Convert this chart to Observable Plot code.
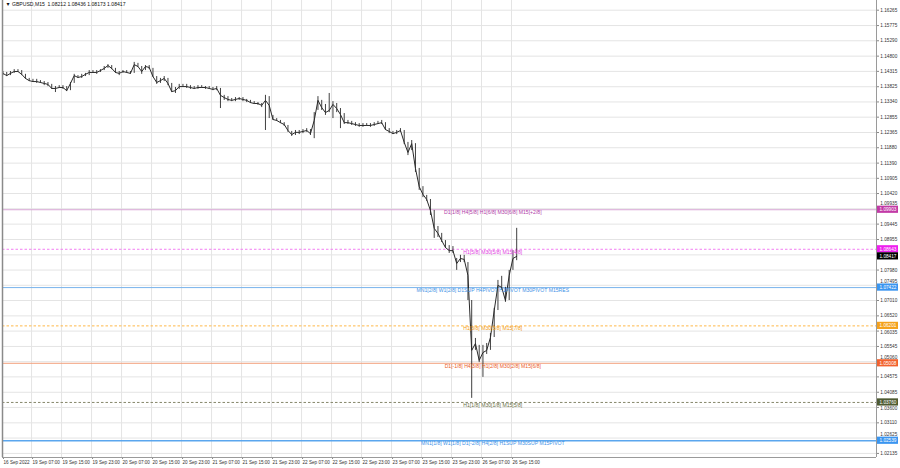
<!DOCTYPE html>
<html><head><meta charset="utf-8">
<script src="https://cdn.jsdelivr.net/npm/d3@7"></script>
<script src="https://cdn.jsdelivr.net/npm/@observablehq/plot@0.6"></script>
<style>html,body{margin:0;padding:0;background:#fff;}</style>
</head><body><div id="chart"></div>
<script>
// Hourly samples (close / high / low)
const hourClose = [1.1425,1.1418,1.1425,1.1431,1.1431,1.1422,1.1409,1.1402,1.1399,1.1399,1.1396,1.1393,1.1390,1.1377,1.1377,1.1380,1.1380,1.1370,1.1393,1.1418,
1.1412,1.1415,1.1422,1.1428,1.1428,1.1428,1.1434,1.1441,1.1450,1.1441,1.1428,1.1425,1.1431,1.1428,1.1425,1.1453,1.1447,1.1431,1.1447,1.1444,
1.1415,1.1396,1.1402,1.1409,1.1393,1.1367,1.1370,1.1383,1.1383,1.1383,1.1380,1.1377,1.1380,1.1380,1.1380,1.1377,1.1374,1.1377,1.1355,1.1348,
1.1342,1.1339,1.1342,1.1345,1.1342,1.1339,1.1332,1.1329,1.1329,1.1323,1.1339,1.1323,1.1278,1.1275,1.1268,1.1262,1.1243,1.1230,1.1237,1.1237,
1.1240,1.1243,1.1233,1.1275,1.1339,1.1316,1.1300,1.1307,1.1326,1.1313,1.1294,1.1268,1.1268,1.1265,1.1262,1.1259,1.1259,1.1259,1.1259,1.1262,
1.1265,1.1268,1.1246,1.1240,1.1233,1.1237,1.1243,1.1205,1.1173,1.1201,1.1122,1.1064,1.1039,1.1023,1.0988,1.0931,1.0915,1.0892,1.0870,1.0860,
1.0860,1.0819,1.0835,1.0832,1.0781,1.0542,1.0564,1.0510,1.0535,1.0542,1.0583,1.0669,1.0749,1.0743,1.0701,1.0781,1.0835,1.08417];
const hourHigh = [1.1431,1.1428,1.1431,1.1437,1.1437,1.1434,1.1422,1.1409,1.1406,1.1406,1.1402,1.1399,1.1396,1.1390,1.1383,1.1386,1.1386,1.1383,1.1396,1.1422,
1.1418,1.1422,1.1425,1.1434,1.1434,1.1434,1.1437,1.1447,1.1453,1.1450,1.1441,1.1431,1.1434,1.1434,1.1431,1.1460,1.1457,1.1447,1.1450,1.1450,
1.1441,1.1415,1.1409,1.1415,1.1409,1.1393,1.1380,1.1390,1.1390,1.1390,1.1386,1.1383,1.1386,1.1386,1.1383,1.1383,1.1380,1.1383,1.1377,1.1355,
1.1351,1.1345,1.1348,1.1348,1.1348,1.1342,1.1339,1.1335,1.1332,1.1329,1.1355,1.1351,1.1291,1.1281,1.1275,1.1268,1.1259,1.1240,1.1243,1.1243,
1.1246,1.1249,1.1246,1.1300,1.1351,1.1339,1.1326,1.1361,1.1335,1.1329,1.1313,1.1297,1.1275,1.1272,1.1268,1.1265,1.1265,1.1265,1.1265,1.1268,
1.1272,1.1275,1.1268,1.1249,1.1240,1.1243,1.1249,1.1243,1.1205,1.1211,1.1201,1.1122,1.1064,1.1036,1.1023,1.0988,1.0937,1.0915,1.0892,1.0876,
1.0873,1.0835,1.0845,1.0845,1.0822,1.0701,1.0580,1.0558,1.0558,1.0564,1.0596,1.0676,1.0765,1.0778,1.0743,1.0797,1.0860,1.0931];
const hourLow = [1.1418,1.1415,1.1418,1.1425,1.1428,1.1418,1.1406,1.1399,1.1396,1.1393,1.1393,1.1386,1.1383,1.1374,1.1364,1.1377,1.1374,1.1367,1.1370,1.1393,
1.1409,1.1409,1.1415,1.1418,1.1425,1.1422,1.1428,1.1434,1.1441,1.1437,1.1425,1.1418,1.1425,1.1425,1.1422,1.1425,1.1444,1.1422,1.1434,1.1437,
1.1412,1.1390,1.1393,1.1399,1.1386,1.1364,1.1361,1.1374,1.1380,1.1377,1.1374,1.1374,1.1374,1.1377,1.1374,1.1374,1.1370,1.1370,1.1313,1.1339,
1.1335,1.1335,1.1335,1.1339,1.1335,1.1332,1.1329,1.1326,1.1323,1.1316,1.1243,1.1281,1.1275,1.1272,1.1265,1.1256,1.1237,1.1224,1.1227,1.1230,
1.1233,1.1237,1.1227,1.1217,1.1307,1.1307,1.1291,1.1300,1.1281,1.1300,1.1249,1.1262,1.1262,1.1259,1.1256,1.1253,1.1253,1.1256,1.1253,1.1256,
1.1262,1.1262,1.1243,1.1233,1.1230,1.1230,1.1237,1.1198,1.1163,1.1179,1.1109,1.1052,1.1029,1.1017,1.0972,1.0899,1.0902,1.0886,1.0867,1.0851,
1.0851,1.0797,1.0822,1.0822,1.0701,1.0389,1.0542,1.0503,1.0456,1.0529,1.0542,1.0583,1.0669,1.0733,1.0695,1.0701,1.0797,1.0828];

// Price axis ticks (right side)
const yTicks = [1.16265,1.15775,1.15290,1.14800,1.14315,1.13825,1.13340,1.12855,1.12365,1.11880,1.11390,1.10905,1.10420,1.09935,1.09445,
1.08955,1.08465,1.07980,1.07495,1.07010,1.06520,1.06035,1.05545,1.05060,1.04575,1.04085,1.03600,1.03110,1.02625,1.02135];

// Time axis (M15 bar index of each label) and labels
const xTickBars = [0,31,63,95,127,159,191,223,255,287,319,351,383,415,447,479,511,543];
const xTickLabels = ["16 Sep 2022","19 Sep 07:00","19 Sep 15:00","19 Sep 23:00","20 Sep 07:00","20 Sep 15:00","20 Sep 23:00",
"21 Sep 07:00","21 Sep 15:00","21 Sep 23:00","22 Sep 07:00","22 Sep 15:00","22 Sep 23:00","23 Sep 07:00","23 Sep 15:00",
"23 Sep 23:00","26 Sep 07:00","26 Sep 15:00"];

// Murrey-math style levels
const levelPrices = [1.09903,1.08643,1.07422,1.06201,1.05008,1.03760,1.02539];
const levelTexts = ["D1[1/8] H4[5/8] H1[6/8] M30[6/8] M15[+2/8]","H1[5/8] M30[5/8] M15[4/8]",
"MN1[2/8] W1[2/8] D1SUP H4PIVOT H1PIVOT M30PIVOT M15RES","H1[3/8] M30[3/8] M15[7/8]",
"D1[-1/8] H4[3/8] H1[2/8] M30[2/8] M15[6/8]","H1[1/8] M30[1/8] M15[5/8]",
"MN1[1/8] W1[1/8] D1[-2/8] H4[2/8] H1SUP M30SUP M15PIVOT"];
const levelLineColors = ["#d9a6d6","#f27ef2","#79b3ec","#ffb848","#f3a07c","#85866a","#5aa6ee"];
const levelTextColors = ["#b03ca8","#e23ce2","#3f92e6","#f29a12","#ea5a26","#6b7048","#3f92e6"];
const levelDashed = [false,true,false,true,false,true,false];
const levelWidths = [1,1,1,1,1,1,1.6];
const boxColors = ["#c23aa6","#ee1fee","#3a95f0","#f4a21c","#f2622e","#4e5a32","#3a95f0"];

const lastPrice = 1.08417;
const titleText = "▼ GBPUSD,M15  1.08212 1.08436 1.08173 1.08417";

const hours = hourClose.map((c, k) => ({i: 4 * k + 0.5, close: c, high: hourHigh[k], low: hourLow[k]}));
const levels = levelPrices.map((p, j) => ({price: p, text: levelTexts[j], line: levelLineColors[j], tc: levelTextColors[j],
  dashed: levelDashed[j], w: levelWidths[j], box: boxColors[j]}));
const boxes = levels.map(d => ({price: d.price, box: d.box})).concat([{price: lastPrice, box: "#000000"}]);
const xMax = 932.3;
const yDomain = [1.02005, 1.16574];
const plotH = 457;
const fs = 4.7;

// Tick labels: nudge those that a price box would cover (they peek out), hide fully covered ones
const pxPer = plotH / (yDomain[1] - yDomain[0]);
const boxHalf = 3.6, textHalf = 2.5;
const tickGroups = new Map();
for (const t of yTicks) {
  const ty = (yDomain[1] - t) * pxPer;
  let dy = 0, hidden = false;
  for (const b of boxes) {
    const by = (yDomain[1] - b.price) * pxPer;
    if (Math.abs(ty - by) < boxHalf + textHalf) {
      if (ty < by) dy = (by - boxHalf - textHalf) - ty; else dy = (by + boxHalf + textHalf) - ty;
    }
  }
  const ny = ty + dy;
  for (const b of boxes) {
    const by = (yDomain[1] - b.price) * pxPer;
    if (Math.abs(ny - by) < boxHalf + textHalf - 0.01) hidden = true;
  }
  if (hidden) continue;
  const key = Math.round(dy * 10) / 10;
  if (!tickGroups.has(key)) tickGroups.set(key, []);
  tickGroups.get(key).push(t);
}
const tickTextMarks = [...tickGroups].map(([dy, arr]) =>
  Plot.text(arr, {x: () => xMax, y: d => d, text: d => d.toFixed(5), dx: 3.8, dy, textAnchor: "start", fill: "#333", fontSize: fs}));

const solid = levels.filter(d => !d.dashed), dashed = levels.filter(d => d.dashed);

const chart = Plot.plot({
  width: 900, height: 468,
  marginLeft: 2, marginRight: 24, marginTop: 0, marginBottom: 11,
  style: {fontFamily: "Liberation Sans, Arial, sans-serif", fontSize: fs + "px", background: "#fff", color: "#222"},
  x: {domain: [0, xMax], axis: null, label: null},
  y: {domain: yDomain, axis: null, label: null},
  marks: [
    Plot.gridY(yTicks, {stroke: "#e4e4e4", strokeOpacity: 1}),
    Plot.gridX(xTickBars, {stroke: "#e4e4e4", strokeOpacity: 1}),
    Plot.ruleY(solid, {y: "price", stroke: "line", strokeWidth: "w"}),
    Plot.ruleY(dashed, {y: "price", stroke: "line", strokeDasharray: "2.5,2"}),
    Plot.ruleX(hours, {x: "i", y1: "low", y2: "high", stroke: "#2a2a2a", strokeWidth: 0.9}),
    Plot.line(hours, {x: "i", y: "close", stroke: "#2a2a2a", strokeWidth: 1}),
    Plot.text(levels, {x: 523, y: "price", text: "text", fill: "tc", lineAnchor: "top", dy: 0.6, fontSize: 5.1}),
    Plot.axisY(yTicks, {anchor: "right", tickSize: 2, fill: "none", stroke: "#888", label: null}),
    ...tickTextMarks,
    Plot.axisX(xTickBars, {anchor: "bottom", tickSize: 2, tickPadding: 1.5, textAnchor: "start", dx: 1, label: null,
      tickFormat: (d, k) => xTickLabels[k], fontSize: 4.6, stroke: "#888", fill: "#333"}),
    Plot.rect(boxes, {x1: () => xMax, x2: () => xMax, y1: "price", y2: "price", insetRight: -22, insetTop: -boxHalf, insetBottom: -boxHalf, fill: "box"}),
    Plot.text(boxes, {x: () => xMax, y: "price", text: d => d.price.toFixed(5), dx: 3, textAnchor: "start", fill: "#fff", fontSize: fs}),
    Plot.ruleX([0], {stroke: "#8a8a8a", strokeWidth: 1.5}),
    Plot.ruleX([xMax], {stroke: "#9a9a9a"}),
    Plot.ruleY([yDomain[0]], {stroke: "#9a9a9a"}),
    Plot.text([titleText], {frameAnchor: "top-left", dx: 3, dy: 2, lineAnchor: "top", textAnchor: "start", fill: "#111", fontSize: 5.1})
  ]
});
document.getElementById("chart").appendChild(chart);
</script></body></html>
